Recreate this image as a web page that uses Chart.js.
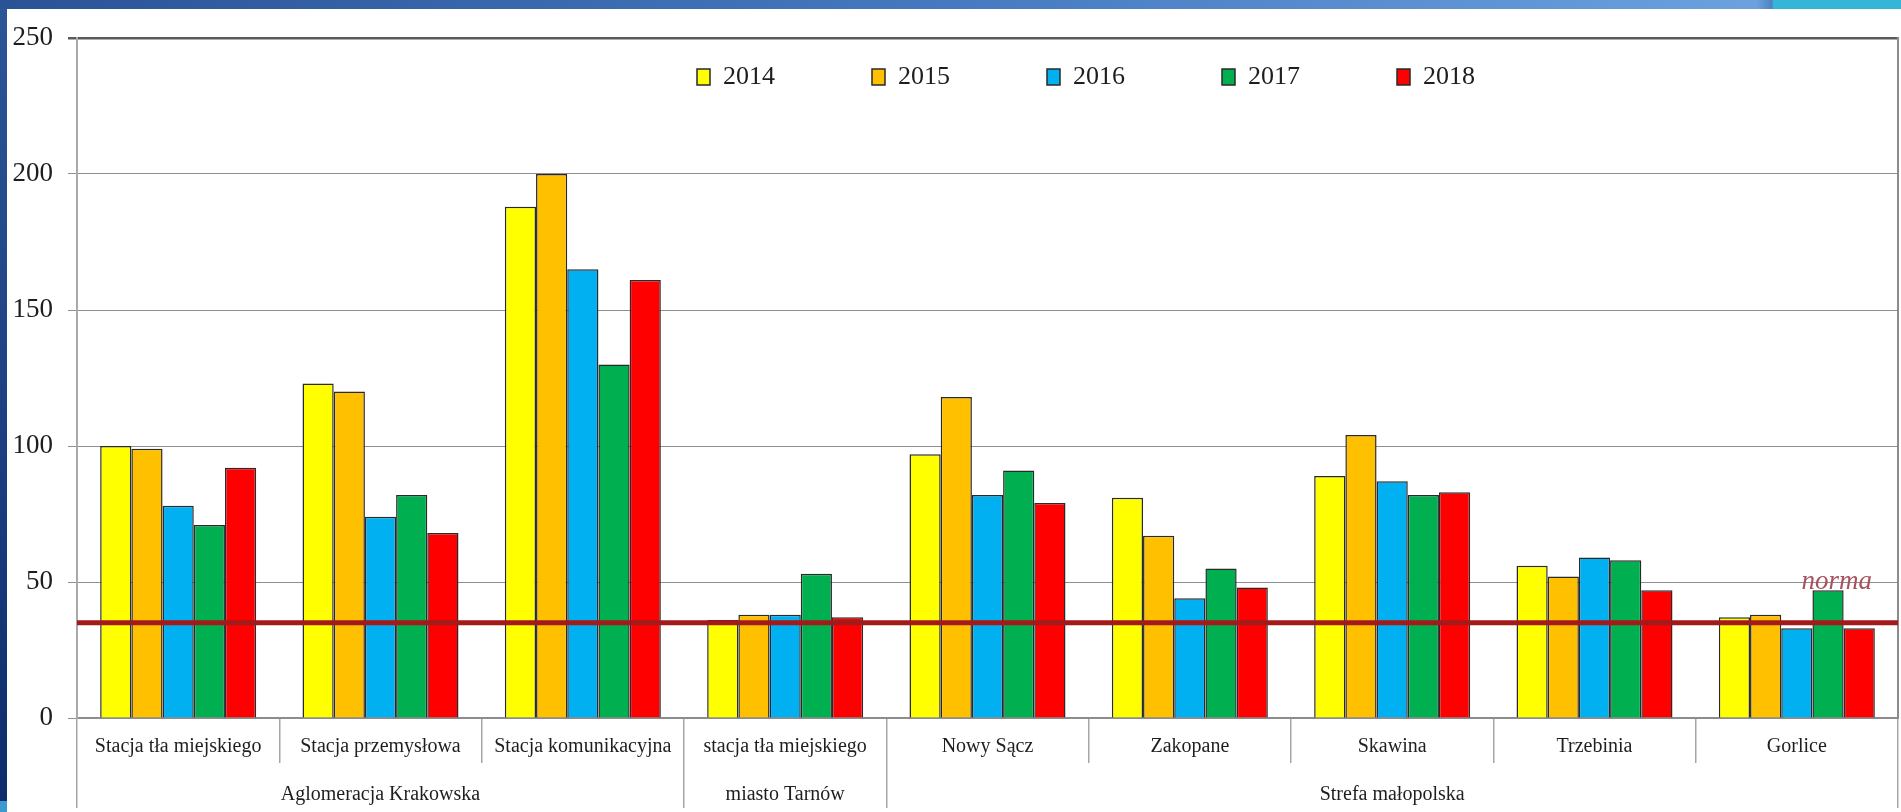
<!DOCTYPE html>
<html lang="pl">
<head>
<meta charset="utf-8">
<title>PM10 – liczba dni z przekroczeniem</title>
<script src="https://cdn.jsdelivr.net/npm/chart.js@4.4.1/dist/chart.umd.min.js"></script>
<style>
  html, body { margin: 0; padding: 0; background: #fff; overflow: hidden; }
  #page { position: relative; width: 1901px; height: 812px; background: #fff; }
  .band-top {
    position: absolute; left: 0; top: 0; width: 1901px; height: 9px;
    background: linear-gradient(90deg, #2a5395 0%, #4679bf 50%, #6ca1de 92.4%, #4f82c2 93.2%, #35b6d6 93.3%, #35b6d6 100%);
  }
  .band-left {
    position: absolute; left: 0; top: 0; width: 7px; height: 812px;
    background: linear-gradient(180deg, #2c5698 0%, #1b3f80 55%, #0d2c6a 98.6%, #3f98cf 98.7%, #3f98cf 100%);
  }
  #chart { position: absolute; left: 0; top: 0; }
</style>
</head>
<body>
<div id="page">
  <div class="band-left"></div>
  <div class="band-top"></div>
  <canvas id="chart" width="1901" height="812"></canvas>
</div>
<script>
// dane
var categories = ['Stacja tła miejskiego', 'Stacja przemysłowa', 'Stacja komunikacyjna',
  'stacja tła miejskiego', 'Nowy Sącz', 'Zakopane', 'Skawina', 'Trzebinia', 'Gorlice'];
var groupNames = ['Aglomeracja Krakowska', 'miasto Tarnów', 'Strefa małopolska'];
var groupSizes = [3, 1, 5];
var years = ['2014', '2015', '2016', '2017', '2018'];
var values2014 = [100, 123, 188, 36, 97, 81, 89, 56, 37];
var values2015 = [99, 120, 200, 38, 118, 67, 104, 52, 38];
var values2016 = [78, 74, 165, 38, 82, 44, 87, 59, 33];
var values2017 = [71, 82, 130, 53, 91, 55, 82, 58, 47];
var values2018 = [92, 68, 161, 37, 79, 48, 83, 47, 33];
var yearColors = ['#FFFF00', '#FFC000', '#00B0F0', '#00B050', '#FF0000'];
var normaValue = 35;
var normaLabel = 'norma';
var yMin = 0, yMax = 250, yStep = 50;

var FONT = '"Liberation Serif", "Times New Roman", serif';
var TEXT = '#1e1e1e';

// granice i środki grup (w jednostkach kategorii)
var groupEdges = [0];
var groupCenters = [];
groupSizes.forEach(function(n) {
  var start = groupEdges[groupEdges.length - 1];
  groupCenters.push(start + n / 2);
  groupEdges.push(start + n);
});
var groupTicks = groupEdges.concat(groupCenters).sort(function(a, b) { return a - b; });

var seriesValues = [values2014, values2015, values2016, values2017, values2018];
var datasets = years.map(function(year, i) {
  return {
    label: year,
    data: seriesValues[i],
    backgroundColor: yearColors[i],
    borderColor: '#2a2a2a',
    borderWidth: 1.5,
    borderSkipped: 'start',
    categoryPercentage: 0.771,
    barPercentage: 1.0,
    stack: 's' + i,
  };
});

// legenda wewnątrz obszaru wykresu
var legendPlacer = {
  id: 'legendPlacer',
  afterLayout: function(chart) {
    var lg = chart.legend;
    if (!lg) return;
    var pad = lg.options.labels.padding;
    var x0 = chart.chartArea.left + 620;
    var y0 = chart.chartArea.top + 26;
    lg.left = x0 - pad;
    lg.right = lg.left + 2000;
    lg.top = y0 - pad;
    lg.bottom = y0 + 60;
  },
};

// linia normy i jej podpis
var normaLine = {
  id: 'normaLine',
  afterDatasetsDraw: function(chart) {
    var ctx = chart.ctx;
    var area = chart.chartArea;
    var y = chart.scales.y.getPixelForValue(normaValue);
    ctx.save();
    ctx.strokeStyle = '#a31a1a';
    ctx.lineWidth = 5;
    ctx.beginPath();
    ctx.moveTo(area.left, y);
    ctx.lineTo(area.right, y);
    ctx.stroke();
    ctx.font = 'italic 27px ' + FONT;
    ctx.fillStyle = '#a8525e';
    ctx.textAlign = 'right';
    ctx.textBaseline = 'middle';
    ctx.fillText(normaLabel, area.right - 26, y - 41);
    ctx.restore();
  },
};

new Chart(document.getElementById('chart'), {
  type: 'bar',
  data: { labels: categories, datasets: datasets },
  plugins: [legendPlacer, normaLine],
  options: {
    responsive: false,
    animation: false,
    devicePixelRatio: 1,
    layout: { padding: { top: 37, right: 3, bottom: 0, left: 0 } },
    plugins: {
      tooltip: { enabled: false },
      legend: {
        position: 'top',
        align: 'start',
        maxHeight: 1,
        labels: {
          boxWidth: 13,
          boxHeight: 16,
          padding: 97,
          color: TEXT,
          font: { family: FONT, size: 26 },
        },
      },
    },
    scales: {
      x: {
        type: 'category',
        position: 'bottom',
        weight: 0,
        offset: true,
        stacked: false,
        grid: {
          offset: true,
          drawOnChartArea: false,
          drawTicks: true,
          tickLength: 45,
          color: '#a6a6a6',
          lineWidth: 1.5,
        },
        border: { display: true, color: '#8c8c8c', width: 1.5 },
        ticks: {
          autoSkip: false,
          maxRotation: 0,
          padding: -28,
          color: TEXT,
          font: { family: FONT, size: 20 },
        },
        afterFit: function(scale) { scale.height = 45; },
      },
      x2: {
        type: 'linear',
        position: 'bottom',
        weight: 1,
        offset: false,
        min: 0,
        max: categories.length,
        afterBuildTicks: function(scale) {
          scale.ticks = groupTicks.map(function(v) { return { value: v }; });
        },
        grid: {
          offset: false,
          drawOnChartArea: false,
          drawTicks: true,
          tickLength: 45,
          lineWidth: 1.5,
          color: function(c) {
            return c.tick && groupEdges.indexOf(c.tick.value) >= 0 ? '#a6a6a6' : 'rgba(0,0,0,0)';
          },
        },
        border: { display: false },
        ticks: {
          autoSkip: false,
          maxRotation: 0,
          padding: -25,
          color: TEXT,
          font: { family: FONT, size: 20 },
          callback: function(value) {
            var i = groupCenters.indexOf(value);
            return i >= 0 ? groupNames[i] : '';
          },
        },
        afterFit: function(scale) { scale.height = 49; },
      },
      y: {
        position: 'left',
        min: yMin,
        max: yMax,
        ticks: {
          stepSize: yStep,
          padding: 15,
          color: TEXT,
          font: { family: FONT, size: 27 },
        },
        grid: {
          drawTicks: true,
          tickLength: 9,
          color: function(c) {
            return c.tick && c.tick.value === yMax ? '#5a5a5a' : '#8f8f8f';
          },
          lineWidth: function(c) {
            return c.tick && c.tick.value === yMax ? 2.5 : 1;
          },
        },
        border: { display: true, color: '#a9a9a9', width: 2 },
        afterFit: function(scale) { scale.width = 77; },
      },
      y2: {
        position: 'right',
        display: true,
        min: yMin,
        max: yMax,
        ticks: { display: false },
        grid: { display: false, drawTicks: false },
        border: { display: true, color: '#8c8c8c', width: 2 },
        afterFit: function(scale) { scale.width = 0; },
      },
    },
  },
});
</script>
</body>
</html>
